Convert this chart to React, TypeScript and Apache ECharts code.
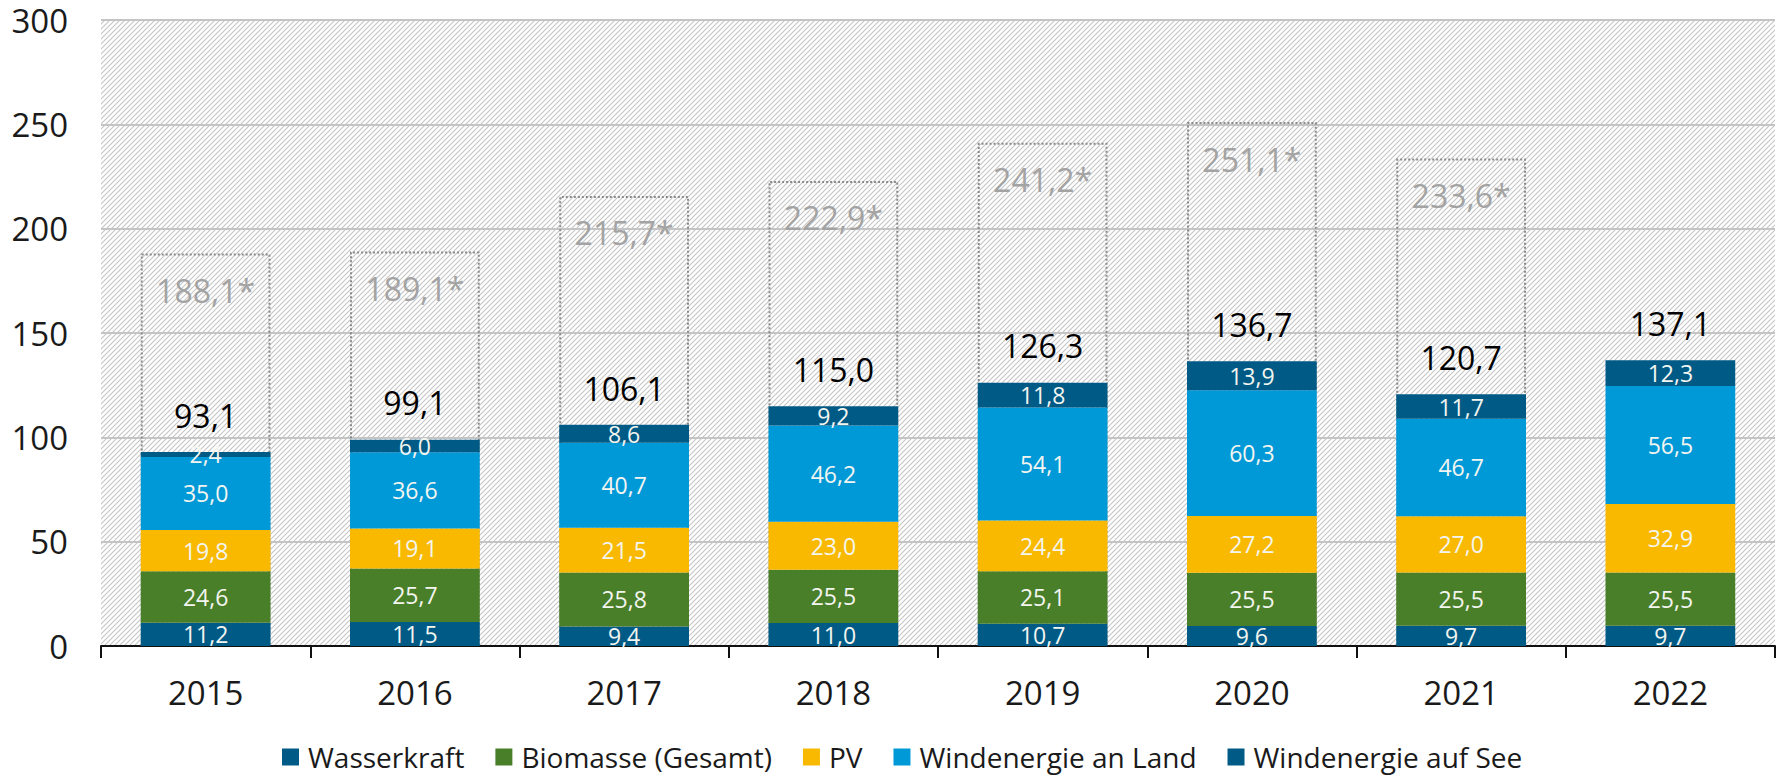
import React, { useEffect, useRef } from "react";
import * as echarts from "echarts";

const years = ["2015", "2016", "2017", "2018", "2019", "2020", "2021", "2022"];
const wasserkraft = [11.2, 11.5, 9.4, 11.0, 10.7, 9.6, 9.7, 9.7];
const biomasse = [24.6, 25.7, 25.8, 25.5, 25.1, 25.5, 25.5, 25.5];
const pv = [19.8, 19.1, 21.5, 23.0, 24.4, 27.2, 27.0, 32.9];
const windLand = [35.0, 36.6, 40.7, 46.2, 54.1, 60.3, 46.7, 56.5];
const windSee = [2.4, 6.0, 8.6, 9.2, 11.8, 13.9, 11.7, 12.3];
const totals = [93.1, 99.1, 106.1, 115.0, 126.3, 136.7, 120.7, 137.1];
const starred = [188.1, 189.1, 215.7, 222.9, 241.2, 251.1, 233.6, null];

const seriesNames = [
  "Wasserkraft",
  "Biomasse (Gesamt)",
  "PV",
  "Windenergie an Land",
  "Windenergie auf See",
];
const seriesColors = ["#005A86", "#4A7F2A", "#F9B900", "#0099D8", "#005A86"];

const FONT = "'Open Sans', sans-serif";
const fmt = (v: number) => v.toFixed(1).replace(".", ",");

export default function App() {
  const ref = useRef<HTMLDivElement>(null);
  useEffect(() => {
    document.body.style.margin = "0";
    if (!ref.current) return;
    const chart = echarts.init(ref.current, null, { renderer: "svg" });
    const svg =
      "<svg xmlns='http://www.w3.org/2000/svg' width='5' height='5'>" +
      "<rect width='5' height='5' fill='#ffffff'/>" +
      "<path d='M0,5 L5,0 M-1,1 L1,-1 M4,6 L6,4' stroke='#c6c6c6' stroke-width='1.1'/></svg>";
    const hatch = {
      image: "data:image/svg+xml;charset=utf-8," + encodeURIComponent(svg),
      repeat: "repeat",
      imageWidth: 5,
      imageHeight: 5,
    };
    const stackData = [wasserkraft, biomasse, pv, windLand, windSee];
    const option: any = {
      animation: false,
      textStyle: { fontFamily: FONT },
      grid: {
        left: 101,
        right: 6,
        top: 20,
        bottom: 131,
        show: true,
        borderWidth: 0,
        backgroundColor: hatch,
        containLabel: false,
      },
      legend: {
        data: seriesNames,
        top: 738,
        left: 277,
        icon: "rect",
        itemWidth: 17,
        itemHeight: 17,
        itemGap: 31,
        textStyle: {
          fontSize: 28,
          color: "#1a1a1a",
          fontFamily: FONT,
          padding: [0, 0, 0, 4],
        },
      },
      xAxis: {
        type: "category",
        data: years,
        axisLine: { lineStyle: { color: "#111", width: 2 } },
        axisTick: { show: true, length: 12, lineStyle: { color: "#111", width: 2 } },
        axisLabel: { fontSize: 33, color: "#1a1a1a", margin: 30, fontFamily: FONT },
      },
      yAxis: {
        type: "value",
        min: 0,
        max: 300,
        interval: 50,
        axisLine: { show: false },
        axisTick: { show: false },
        axisLabel: {
          fontSize: 33,
          lineHeight: 33,
          color: "#1a1a1a",
          margin: 33,
          fontFamily: FONT,
        },
        splitLine: { lineStyle: { color: "#c4c4c4", width: 2 } },
      },
      series: [
        {
          name: "box",
          type: "bar",
          data: starred,
          barWidth: "62%",
          barGap: "-100%",
          silent: true,
          itemStyle: {
            color: "rgba(0,0,0,0)",
            borderColor: "#8a8a8a",
            borderWidth: 2,
            borderType: "dotted",
          },
          label: {
            show: true,
            position: "insideTop",
            distance: 21,
            color: "#a3a3a3",
            fontSize: 32,
            fontFamily: FONT,
            formatter: (p: any) => (p.value == null ? "" : fmt(p.value) + "*"),
          },
        },
        ...seriesNames.map((name, i) => ({
          name,
          type: "bar",
          stack: "total",
          data: stackData[i],
          barWidth: "62%",
          barGap: "-100%",
          itemStyle: { color: seriesColors[i] },
          label: {
            show: true,
            position: "inside",
            color: "#f3f5f0",
            fontSize: 23,
            fontFamily: FONT,
            formatter: (p: any) => fmt(p.value),
          },
        })),
        {
          name: "Summe",
          type: "line",
          data: totals,
          symbol: "circle",
          symbolSize: 1,
          itemStyle: { color: "rgba(0,0,0,0)" },
          lineStyle: { opacity: 0 },
          silent: true,
          z: 5,
          label: {
            show: true,
            position: "top",
            distance: 20,
            color: "#000",
            fontSize: 32,
            fontFamily: FONT,
            formatter: (p: any) => fmt(p.value),
          },
        },
      ],
    };
    chart.setOption(option);
    return () => chart.dispose();
  }, []);
  return <div ref={ref} style={{ width: 1781, height: 777 }} />;
}
